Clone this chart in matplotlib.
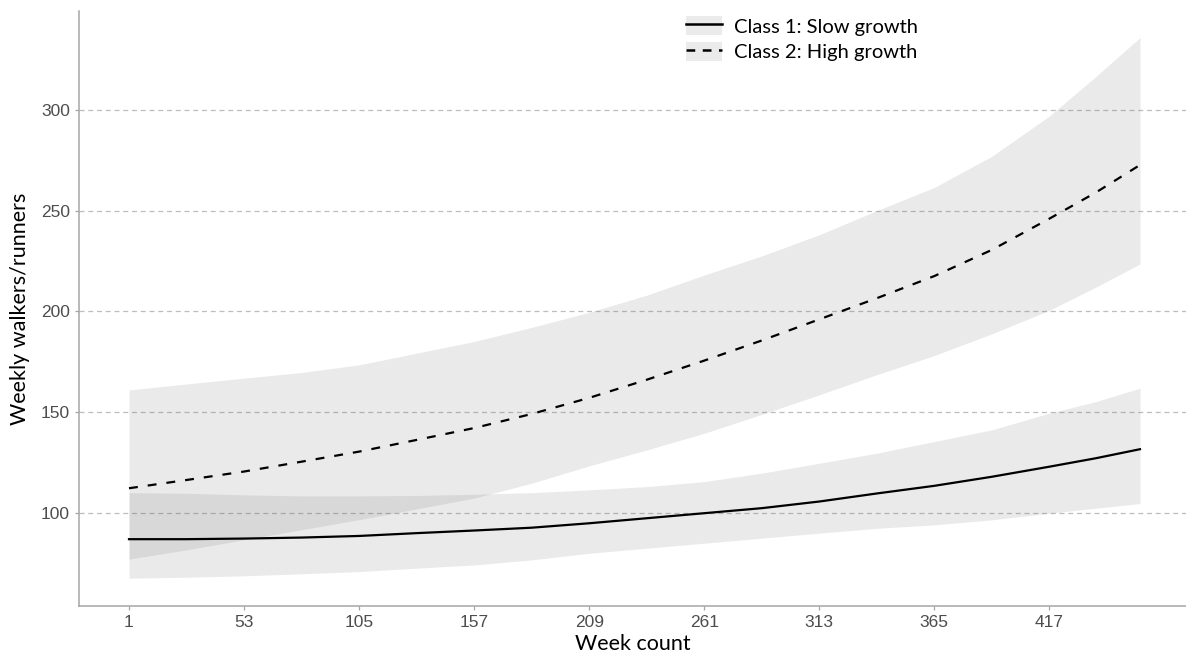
import matplotlib
matplotlib.use("Agg")
import matplotlib.pyplot as plt
from matplotlib.lines import Line2D
from matplotlib.patches import Patch
from matplotlib.legend_handler import HandlerTuple

# values
weeks = [1, 27, 53, 79, 105, 131, 157, 183, 209, 235, 261, 287, 313, 339, 365, 391, 417, 438, 458]

slow_mean = [86.8, 86.8, 87.1, 87.6, 88.4, 89.8, 91.1, 92.5, 94.7, 97.2, 99.7, 102.2,
             105.5, 109.5, 113.3, 117.8, 122.8, 127.0, 131.5]
slow_upper = [109.9, 109.6, 108.8, 108.3, 108.3, 108.5, 109.1, 109.9, 111.3, 112.9, 115.4, 119.6,
              124.5, 129.5, 135.3, 141.1, 149.4, 155.1, 161.8]
slow_lower = [67.4, 67.9, 68.6, 69.6, 70.7, 72.4, 74.0, 76.5, 79.8, 82.3, 84.8, 87.3,
              89.8, 92.2, 93.9, 96.4, 99.7, 102.2, 104.5]

high_mean = [112.1, 116.2, 120.4, 125.3, 130.3, 136.1, 142.0, 149.0, 157.0, 166.0, 175.5, 185.5,
             196.0, 206.5, 217.5, 230.5, 246.0, 259.0, 272.7]
high_upper = [160.9, 163.9, 166.8, 169.6, 173.4, 179.2, 185.0, 192.0, 199.5, 208.0, 218.0, 227.5,
              238.0, 250.0, 261.5, 277.0, 297.0, 316.6, 336.0]
high_lower = [76.9, 81.5, 86.5, 91.5, 96.5, 101.8, 107.2, 114.6, 123.2, 131.1, 139.4, 148.8,
              158.5, 168.5, 178.0, 188.8, 200.5, 212.0, 223.5]

x_ticks = [1, 53, 105, 157, 209, 261, 313, 365, 417]
y_ticks = [100, 150, 200, 250, 300]

label_font = ["Lato", "DejaVu Sans"]
tick_font = ["Liberation Sans", "DejaVu Sans"]

fig = plt.figure(figsize=(11.86, 6.6), dpi=100)
ax = fig.add_axes([79 / 1186, 1 - 606 / 660, 1 - 79 / 1186, (606 - 11) / 660])

band_color = "#6c6c6c"
band_alpha = 0.14
ax.fill_between(weeks, slow_lower, slow_upper, color=band_color, alpha=band_alpha, lw=0)
ax.fill_between(weeks, high_lower, high_upper, color=band_color, alpha=band_alpha, lw=0)
ax.plot(weeks, slow_mean, color="black", lw=1.6)
ax.plot(weeks, high_mean, color="black", lw=1.6, dashes=(4, 4.5))

ax.set_xlim(-21.6, 478.8)
ax.set_ylim(53.6, 349.2)
ax.set_xticks(x_ticks)
ax.set_yticks(y_ticks)
ax.yaxis.grid(True, color="#bdbdbd", ls=(0, (4, 3)), lw=0.9)
ax.set_axisbelow(True)

for side in ["top", "right"]:
    ax.spines[side].set_visible(False)
for side in ["left", "bottom"]:
    ax.spines[side].set_color("#a6a6a6")
    ax.spines[side].set_linewidth(1.1)

ax.tick_params(axis="both", colors="#a6a6a6", length=3, width=0.9,
               labelcolor="#4d4d4d", labelsize=12.5)
for lab in ax.get_xticklabels() + ax.get_yticklabels():
    lab.set_family(tick_font)

ax.set_xlabel("Week count", family=label_font, fontsize=15.5, color="black", labelpad=3)
ax.set_ylabel("Weekly walkers/runners", family=label_font, fontsize=15.5, color="black", labelpad=8)

handles = [
    (Patch(facecolor="#ebebeb", edgecolor="none"), Line2D([], [], color="black", lw=1.8)),
    (Patch(facecolor="#ebebeb", edgecolor="none"), Line2D([], [], color="black", lw=1.8, dashes=(3.5, 3))),
]
leg = ax.legend(handles, ["Class 1: Slow growth", "Class 2: High growth"],
                handler_map={tuple: HandlerTuple(ndivide=1, pad=0)},
                loc="upper left", bbox_to_anchor=(668 / 1186, 1.0 + 2 / 660), bbox_transform=fig.transFigure,
                frameon=False, handlelength=1.8, handleheight=1.1, handletextpad=0.6,
                labelspacing=0.3, prop={"family": label_font, "size": 14.5})

fig.savefig("out.png", dpi=100)
